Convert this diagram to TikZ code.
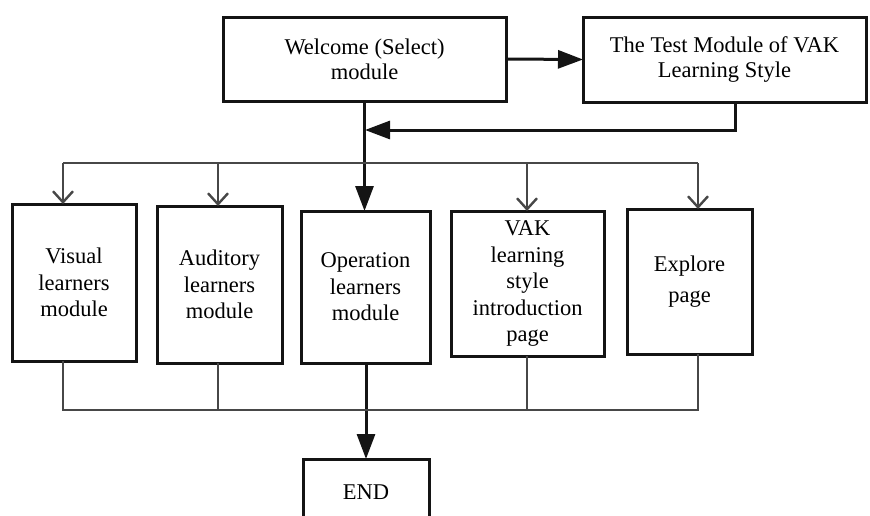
\documentclass[tikz,border=0pt]{standalone}
\usepackage{fontspec}
\setmainfont{Liberation Serif}
\newfontfamily\boxfont{Liberation Serif}
\usetikzlibrary{arrows.meta}
\definecolor{wire}{HTML}{474747}
\definecolor{ink}{HTML}{141414}
\begin{document}
\begin{tikzpicture}[x=1pt,y=-1pt,
  box/.style={draw=ink, line width=3pt, fill=white, align=center,
    inner sep=0pt, outer sep=0pt, font=\boxfont\fontsize{22.5}{26.5}\selectfont},
  mainline/.style={draw=ink, line width=3pt},
  mainarrow/.style={mainline, -{Triangle[length=25pt,width=18pt]}},
  branch/.style={draw=wire, line width=2.4pt},
  brancharrow/.style={branch, -{Straight Barb[length=11pt,width=20pt,line width=2.4pt]}}
]
\path[use as bounding box, clip] (0,0) rectangle (870,515);

% top row
\node[box, minimum width=283pt, minimum height=84pt,
      font=\boxfont\fontsize{22.5}{25}\selectfont] (welcome) at (364.5,59)
  {Welcome (Select)\\module};
\node[box, minimum width=283pt, minimum height=85pt,
      font=\boxfont\fontsize{22.5}{25}\selectfont] (test) at (724.5,59.5)
  {The Test Module of VAK\\Learning Style};

% module row
\node[box, minimum width=124pt, minimum height=157pt] (visual) at (74,282.5)
  {Visual\\learners\\module};
\node[box, minimum width=125pt, minimum height=157pt] (auditory) at (219.5,284.5)
  {Auditory\\learners\\module};
\node[box, minimum width=129pt, minimum height=152pt] (operation) at (365.5,287)
  {Operation\\learners\\module};
\node[box, minimum width=153pt, minimum height=145pt] (vak) at (527.5,283.5)
  {VAK\\learning\\style\\introduction\\page};
\node[box, minimum width=125pt, minimum height=145pt,
      font=\boxfont\fontsize{22.5}{31}\selectfont] (explore) at (689.5,281.5)
  {Explore\\page};

% end box (runs past the lower edge)
\node[box, minimum width=126pt, minimum height=66pt, anchor=north] (end) at (366,459)
  {END};

% junction points
\coordinate (fb) at (365,130);
\coordinate (tV) at (63,163);
\coordinate (tA) at (218,163);
\coordinate (tK) at (527,163);
\coordinate (tE) at (698,163);
\coordinate (bV) at (63,410);
\coordinate (bA) at (218,410);
\coordinate (bK) at (527,410);
\coordinate (bE) at (698,410);

% main flow
\draw[mainarrow] (welcome.east) -- (test.west);
\draw[mainarrow] ([xshift=10.5pt]test.south) |- (fb);
\draw[mainarrow] (welcome.south) -- (welcome.south |- operation.north);
\draw[mainarrow] (operation.south -| end.north) -- (end.north);

% upper distribution bus
\draw[branch] (tV) -- (tE);
\draw[brancharrow] (tV) -- (tV |- visual.north);
\draw[brancharrow] (tA) -- (tA |- auditory.north);
\draw[brancharrow] (tK) -- (tK |- vak.north);
\draw[brancharrow] (tE) -- (tE |- explore.north);

% lower collecting bus
\draw[branch] (visual.south -| bV) -- (bV) -- (bE) -- (explore.south -| bE);
\draw[branch] (auditory.south -| bA) -- (bA);
\draw[branch] (vak.south -| bK) -- (bK);
\end{tikzpicture}
\end{document}
